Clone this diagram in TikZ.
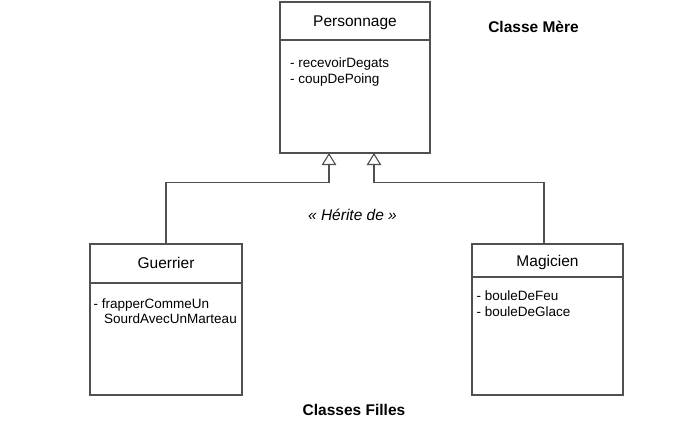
\documentclass[tikz,border=0pt]{standalone}
\usepackage{fontspec}
\setmainfont{Liberation Sans}
\usetikzlibrary{arrows.meta}
\definecolor{lineGray}{RGB}{80,80,80}
\begin{document}
\begin{tikzpicture}[x=1pt,y=-1pt,
  classbox/.style={draw=lineGray,line width=1.3pt,rectangle,inner sep=0pt,fill=white},
  divider/.style={draw=lineGray,line width=1.3pt},
  inherit/.style={draw=lineGray,line width=1.3pt,-{Triangle[open,width=14.5pt,length=12pt,line width=1.1pt]}},
  ctitle/.style={anchor=base,inner sep=0pt,font=\fontsize{15.5}{18}\selectfont},
  meth/.style={anchor=base west,inner sep=0pt,font=\fontsize{13.5}{16}\selectfont},
  label/.style={anchor=base,inner sep=0pt,font=\bfseries\fontsize{15.5}{18}\selectfont}]
\useasboundingbox[fill=white] (0,0) rectangle (678,428);

% class boxes
\node[classbox,minimum width=150pt,minimum height=151pt] (pers) at (355,77.5) {};
\node[classbox,minimum width=152pt,minimum height=151pt] (guer) at (166,319.5) {};
\node[classbox,minimum width=151pt,minimum height=151pt] (magi) at (547.5,319.5) {};

% dividers
\draw[divider] (pers.west |- 0,40) -- (pers.east |- 0,40);
\draw[divider] (guer.west |- 0,283) -- (guer.east |- 0,283);
\draw[divider] (magi.west |- 0,277) -- (magi.east |- 0,277);

% titles
\node[ctitle] (persT) at (355,26.5) {Personnage};
\node[ctitle] (guerT) at (166,268.3) {Guerrier};
\node[ctitle] (magiT) at (547.5,266) {Magicien};

% methods
\node[meth] (p1) at (290,67.7) {- recevoirDegats};
\node[meth] (p2) at (290,83.3) {- coupDePoing};
\node[meth] (g1) at (93.5,308.3) {- frapperCommeUn};
\node[meth] (g2) at (104,323.3) {SourdAvecUnMarteau};
\node[meth] (m1) at (476.5,300.7) {- bouleDeFeu};
\node[meth] (m2) at (476.5,316.7) {- bouleDeGlace};

% labels
\node[label] (mere) at (533.5,32.7) {Classe Mère};
\node[label] (filles) at (354,415.7) {Classes Filles};
\node[anchor=base,inner sep=0pt,font=\itshape\fontsize{15.5}{18}\selectfont] (herite) at (352.5,220) {« Hérite de »};

% inheritance connectors
\coordinate (pL) at (329,153);
\coordinate (pR) at (374,153);
\coordinate (jL) at (329,182.3);
\coordinate (jR) at (374,182.3);
\coordinate (mTop) at (544,244);
\draw[inherit] (guer.north) |- (jL) -- (pL);
\draw[inherit] (mTop) |- (jR) -- (pR);
\end{tikzpicture}
\end{document}
